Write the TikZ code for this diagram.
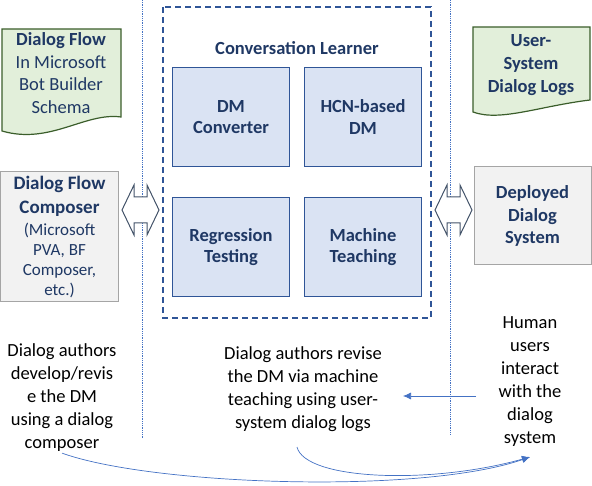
\documentclass[tikz,border=0pt]{standalone}
\usepackage{fontspec}
\setmainfont{Carlito}
\usepackage{xcolor}
\usepackage{tikz}
\usetikzlibrary{arrows.meta}
\definecolor{navy}{HTML}{1F3864}
\definecolor{dmblue}{HTML}{2F5597}
\definecolor{cellfill}{HTML}{DAE3F3}
\definecolor{docfill}{HTML}{E2EFDA}
\definecolor{docline}{HTML}{3B5E2B}
\definecolor{greyfill}{HTML}{F2F2F2}
\definecolor{greyline}{HTML}{A5A5A5}
\definecolor{arrline}{HTML}{44546A}
\definecolor{flowblue}{HTML}{4472C4}

\begin{document}
\begin{tikzpicture}[x=1pt,y=-1pt,>={Latex[length=8pt,width=7pt]},
 txt/.style={font=\fontsize{18.5}{22.6}\selectfont,align=center,text=navy,inner sep=1pt},
 plain/.style={font=\fontsize{18.5}{23}\selectfont,align=center,inner sep=1pt},
 cell/.style={txt,draw=dmblue,fill=cellfill,line width=1.2pt,minimum width=117,minimum height=99,font=\fontsize{18.5}{21.5}\selectfont\bfseries},
 greybox/.style={txt,draw=greyline,fill=greyfill,line width=1pt},
 flow/.style={draw=flowblue,line width=0.7pt}]
\useasboundingbox (0,0) rectangle (592,486);
% separators
\draw[flowblue,line width=0.9pt,dash pattern=on 0.9pt off 0.9pt](142,0)--(142,438)
(450,0)--(450,435);
% conversation learner
\draw[dmblue,line width=1.3pt,dash pattern=on 6pt off 4pt](163,7) rectangle (431,318);
\node[txt,font=\fontsize{18.5}{22.6}\selectfont\bfseries] (cltitle) at (297,48) {Conversation Learner};
\node[cell] (converter) at (231,117) {DM\\Converter};
\node[cell] (hcn) at (363,117) {HCN-based\\DM};
\node[cell] (regression) at (231,247) {Regression\\Testing};
\node[cell] (teaching) at (363,247) {Machine\\Teaching};
% documents
\filldraw[fill=docfill,draw=docline,line width=1.2pt](2,29)--(121,29)--(121,117)
.. controls (85,112) and (50,145) .. (2,131)--cycle;
\node[txt] (flowdoc) at (61,73) {\textbf{Dialog Flow}\\In Microsoft\\Bot Builder\\Schema};
\filldraw[fill=docfill,draw=docline,line width=1.2pt](473,27)--(590,27)--(590,100)
.. controls (540,106) and (500,122) .. (473,112)--cycle;
\node[txt,font=\fontsize{18.5}{22.6}\selectfont\bfseries] (logdoc) at (531,65) {User-\\System\\Dialog Logs};
% side boxes
\node[greybox,minimum width=118,minimum height=130,font=\fontsize{17}{20}\selectfont] (composer) at (59.5,237)
{{\fontsize{19}{20}\selectfont\bfseries Dialog Flow}\\[4pt]{\fontsize{19}{20}\selectfont\bfseries Composer}\\[2pt](Microsoft\\PVA, BF\\Composer,\\etc.)};
\node[greybox,minimum width=117,minimum height=98,font=\fontsize{18.5}{22.6}\selectfont\bfseries] (deployed) at (532.5,216) {Deployed\\Dialog\\System};
% double arrows
\foreach \cx in {140.5,453.5}
\filldraw[fill=white,draw=arrline,line width=1pt](\cx-18.5,210)--(\cx-6.5,185)--(\cx-6.5,197)--(\cx+6.5,197)
--(\cx+6.5,185)--(\cx+18.5,210)--(\cx+6.5,235)--(\cx+6.5,223)--(\cx-6.5,223)--(\cx-6.5,235)--cycle;
% notes
\node[plain] (authortxt) at (62,398) {Dialog authors\\develop/revis\\e the DM\\using a dialog\\composer};
\node[plain] (revisetxt) at (303,389) {Dialog authors revise\\the DM via machine\\teaching using user-\\system dialog logs};
\node[plain] (usertxt) at (530,382) {Human\\users\\interact\\with the\\dialog\\system};
\coordinate (hstart) at (476,396);
\coordinate (hend) at (403,396);
\coordinate (revisefoot) at (297,447);
\coordinate (curvetip) at (530,457);
\draw[flow,->](hstart)--(hend);
\draw[flow,->](authortxt.south) .. controls (150,485) and (420,495) .. (curvetip);
\draw[flow,->](revisefoot) .. controls (305,480) and (430,485) .. (curvetip);
\end{tikzpicture}
\end{document}
